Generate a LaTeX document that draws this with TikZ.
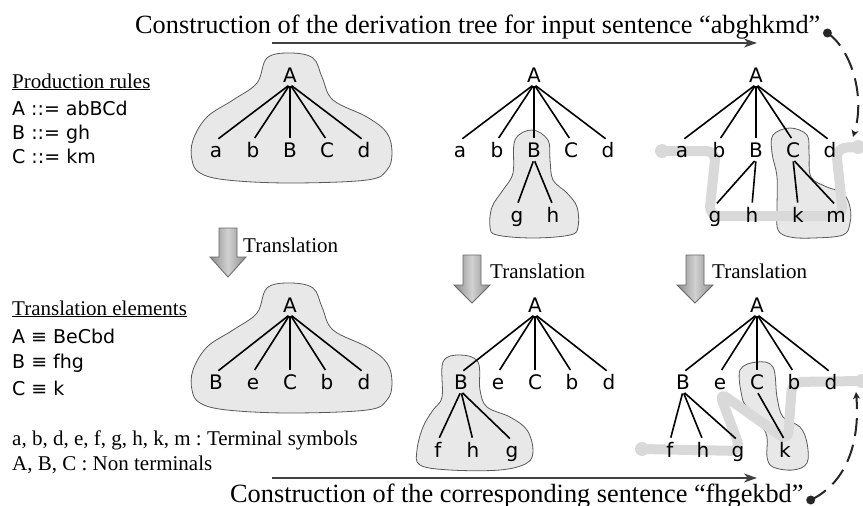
\documentclass[tikz,border=0pt]{standalone}
\usepackage{fontspec}
\setmainfont{Liberation Serif}
\newfontfamily\symfont{DejaVu Sans}
\usetikzlibrary{arrows.meta,calc}
\frenchspacing
\begin{document}
\begin{tikzpicture}[x=1pt,y=-1pt,
  sym/.style={font=\symfont\fontsize{20}{20}\selectfont, inner xsep=0pt, inner ysep=2pt, text height=14.5pt, text depth=0pt},
  edge/.style={line width=1.6pt, shorten <=2pt, shorten >=3pt},
  blob/.style={fill=black!9, draw=black!65, line width=0.8pt},
  band/.style={line width=10pt, draw=black!15, line cap=round, line join=round, rounded corners=10pt},
  banddot/.style={fill=black!15},
  lab/.style={font=\fontsize{21}{21}\selectfont, anchor=base west, inner sep=0pt},
  symlab/.style={font=\symfont\fontsize{19}{19}\selectfont, anchor=base west, inner sep=0pt},
  ttl/.style={font=\fontsize{26.3}{26.3}\selectfont, anchor=base west, inner sep=0pt},
  flow/.style={draw=black!75, line width=2.2pt, -{Stealth[length=13pt,width=9pt,inset=4pt]}},
  dashline/.style={draw=black!85, line width=2pt, dash pattern=on 18pt off 9pt, -{Stealth[length=7pt,width=7pt,inset=2pt]}},
  transarrow/.style={draw=black!60, line width=0.8pt, left color=black!45, right color=black!45, middle color=black!18}
]
\useasboundingbox (0,0) rectangle (863,506);

% ---------- blobs ----------
\draw[blob] plot[smooth cycle, tension=0.6] coordinates {(290,53) (313,58) (322,77) (333,100) (367,117) (387,133) (392,153) (387,170) (367,180) (290,183) (227,180) (200,173) (192,160) (193,140) (207,117) (233,100) (257,83) (267,58)};
\begin{scope}[shift={(0,230)}]
\draw[blob] plot[smooth cycle, tension=0.6] coordinates {(290,53) (313,58) (322,77) (333,100) (367,117) (387,133) (392,153) (387,170) (367,180) (290,183) (227,180) (200,173) (192,160) (193,140) (207,117) (233,100) (257,83) (267,58)};
\end{scope}
\draw[blob] plot[smooth cycle, tension=0.6] coordinates {(532,130) (548,140) (550,160) (553,180) (567,193) (577,207) (578,227) (570,235) (533,238) (497,235) (490,227) (492,207) (503,190) (513,173) (515,140)};
\draw[blob] plot[smooth cycle, tension=0.6] coordinates {(790,128) (807,135) (809,153) (811,177) (827,187) (843,193) (850,207) (850,223) (843,235) (813,238) (790,237) (778,230) (777,210) (777,177) (772,153) (773,135)};
\draw[blob] plot[smooth cycle, tension=0.6] coordinates {(460,355) (478,362) (480,390) (487,407) (510,417) (527,430) (533,450) (527,463) (500,470) (450,470) (420,465) (417,450) (423,427) (433,410) (442,397) (443,362)};
\draw[blob] plot[smooth cycle, tension=0.6] coordinates {(757,362) (773,367) (777,397) (783,417) (800,427) (807,443) (807,463) (793,470) (773,467) (767,457) (767,437) (760,423) (747,407) (742,397) (740,370)};

% ---------- gray reading paths ----------
\draw[band] (662,151) -- (716,151) -- (709,216) -- (843,216) -- (836,148) -- (858,147);
\fill[banddot] (662,151) circle (7);
\fill[banddot] (858,147) circle (7);
\draw[band] (642,449) -- (741,451) -- (719,392) -- (788,441) -- (792,382) -- (862,381);
\fill[banddot] (642,449) circle (7);
\fill[banddot] (862,381) circle (7);

% ---------- top tree 1 ----------
\node[sym] (p1A) at (290,75) {A};
\node[sym] (p1a) at (216,150) {a};
\node[sym] (p1b) at (253,150) {b};
\node[sym] (p1B) at (290,150) {B};
\node[sym] (p1C) at (327,150) {C};
\node[sym] (p1d) at (364,150) {d};
\foreach \c in {a,b,B,C,d} \draw[edge] (p1A.south) -- (p1\c.north);

% ---------- top tree 2 ----------
\node[sym] (p2A) at (534,75) {A};
\node[sym] (p2a) at (460,150) {a};
\node[sym] (p2b) at (497,150) {b};
\node[sym] (p2B) at (534,150) {B};
\node[sym] (p2C) at (571,150) {C};
\node[sym] (p2d) at (608,150) {d};
\node[sym] (p2g) at (517,215) {g};
\node[sym] (p2h) at (553,215) {h};
\foreach \c in {a,b,B,C,d} \draw[edge] (p2A.south) -- (p2\c.north);
\foreach \c in {g,h} \draw[edge] (p2B.south) -- (p2\c.north);

% ---------- top tree 3 ----------
\node[sym] (p3A) at (756,75) {A};
\node[sym] (p3a) at (682,150) {a};
\node[sym] (p3b) at (719,150) {b};
\node[sym] (p3B) at (756,150) {B};
\node[sym] (p3C) at (793,150) {C};
\node[sym] (p3d) at (830,150) {d};
\node[sym] (p3g) at (715,215) {g};
\node[sym] (p3h) at (752,215) {h};
\node[sym] (p3k) at (798,215) {k};
\node[sym] (p3m) at (836,215) {m};
\foreach \c in {a,b,B,C,d} \draw[edge] (p3A.south) -- (p3\c.north);
\foreach \c in {g,h} \draw[edge] (p3B.south) -- (p3\c.north);
\foreach \c in {k,m} \draw[edge] (p3C.south) -- (p3\c.north);

% ---------- bottom tree 1 ----------
\node[sym] (q1A) at (290,305) {A};
\node[sym] (q1B) at (216,382) {B};
\node[sym] (q1e) at (253,382) {e};
\node[sym] (q1C) at (290,382) {C};
\node[sym] (q1b) at (327,382) {b};
\node[sym] (q1d) at (364,382) {d};
\foreach \c in {B,e,C,b,d} \draw[edge] (q1A.south) -- (q1\c.north);

% ---------- bottom tree 2 ----------
\node[sym] (q2A) at (535,305) {A};
\node[sym] (q2B) at (461,382) {B};
\node[sym] (q2e) at (498,382) {e};
\node[sym] (q2C) at (535,382) {C};
\node[sym] (q2b) at (572,382) {b};
\node[sym] (q2d) at (609,382) {d};
\node[sym] (q2f) at (438,450) {f};
\node[sym] (q2h) at (473,450) {h};
\node[sym] (q2g) at (512,450) {g};
\foreach \c in {B,e,C,b,d} \draw[edge] (q2A.south) -- (q2\c.north);
\foreach \c in {f,h,g} \draw[edge] (q2B.south) -- (q2\c.north);

% ---------- bottom tree 3 ----------
\node[sym] (q3A) at (757,305) {A};
\node[sym] (q3B) at (683,382) {B};
\node[sym] (q3e) at (720,382) {e};
\node[sym] (q3C) at (757,382) {C};
\node[sym] (q3b) at (794,382) {b};
\node[sym] (q3d) at (831,382) {d};
\node[sym] (q3f) at (670,450) {f};
\node[sym] (q3h) at (703,450) {h};
\node[sym] (q3g) at (738,450) {g};
\node[sym] (q3k) at (785,450) {k};
\foreach \c in {B,e,C,b,d} \draw[edge] (q3A.south) -- (q3\c.north);
\foreach \c in {f,h,g} \draw[edge] (q3B.south) -- (q3\c.north);
\draw[edge] (q3C.south) -- (q3k.north);

% ---------- translation arrows ----------
\foreach \cx/\ya/\yb/\yc in {228/228/257/277, 472/255/285/303, 695/255/285/303}
  \path[transarrow] (\cx-9,\ya) -- (\cx+9,\ya) -- (\cx+9,\yb) -- (\cx+18,\yb) -- (\cx,\yc) -- (\cx-18,\yb) -- (\cx-9,\yb) -- cycle;
\node[lab] (tr1) at (243,252) {Translation};
\node[lab] (tr2) at (490,278) {Translation};
\node[lab] (tr3) at (712,278) {Translation};

% ---------- left texts ----------
\node[lab] (prh) at (12,88) {\underline{Production rules}};
\node[symlab] (pr1) at (12,115) {A ::= abBCd};
\node[symlab] (pr2) at (12,139) {B ::= gh};
\node[symlab] (pr3) at (12,163) {C ::= km};
\node[lab] (teh) at (12,315) {\underline{Translation elements}};
\node[symlab] (te1) at (12,343) {A ≡ BeCbd};
\node[symlab] (te2) at (12,368) {B ≡ fhg};
\node[symlab] (te3) at (12,395) {C ≡ k};
\node[lab] (term) at (12,445) {a, b, d, e, f, g, h, k, m : Terminal symbols};
\node[lab] (nonterm) at (12,470) {A, B, C : Non terminals};

% ---------- titles and flow arrows ----------
\node[ttl] (ttop) at (135,33) {Construction of the derivation tree for input sentence “abghkmd”};
\node[ttl] (tbot) at (230,502) {Construction of the corresponding sentence “fhgekbd”};
\coordinate (f1s) at (272,43);
\coordinate (f1e) at (757,43);
\coordinate (f2s) at (272,478);
\coordinate (f2e) at (757,478);
\draw[flow] (f1s) -- (f1e);
\draw[flow] (f2s) -- (f2e);

\coordinate (dt) at ($(ttop.base east)+(7,0)$);
\coordinate (dtip) at (853,137);
\fill[black!85] (dt) circle (4.5);
\draw[dashline] (dt) .. controls (850,48) and (866,95) .. (dtip);
\coordinate (db) at ($(tbot.base east)+(7,-2)$);
\coordinate (dbtip) at (856,392);
\fill[black!85] (db) circle (4.5);
\draw[dashline] (db) .. controls (848,482) and (860,440) .. (dbtip);
\end{tikzpicture}
\end{document}
